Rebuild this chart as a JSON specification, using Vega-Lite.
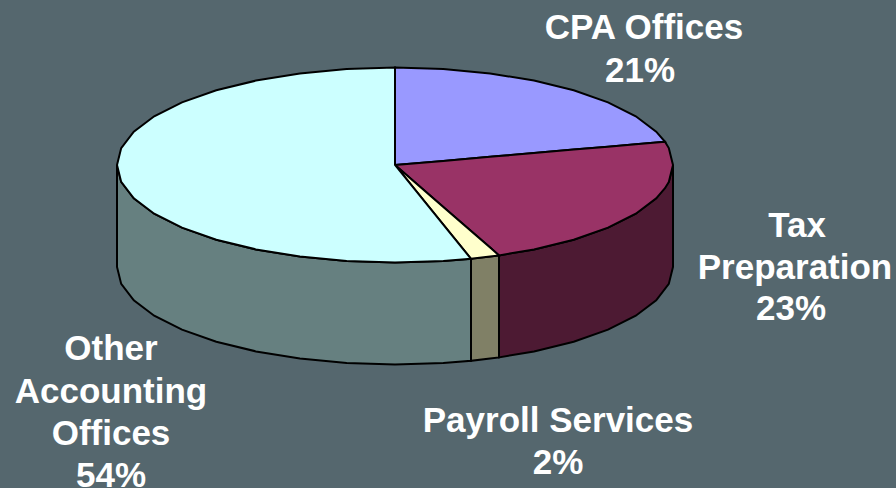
{"$schema":"https://vega.github.io/schema/vega-lite/v6.json","width":896,"height":488,"autosize":"none","padding":0,"background":"#55676e","view":{"stroke":null},
"datasets":{
"walls":[
{"part":"Other wall","x":117,"y":165,"y2":267},{"part":"Other wall","x":121.2,"y":181.9,"y2":283.9},{"part":"Other wall","x":133.8,"y":198.3,"y2":300.3},{"part":"Other wall","x":154.2,"y":213.75,"y2":315.75},{"part":"Other wall","x":182,"y":227.7,"y2":329.7},{"part":"Other wall","x":216.3,"y":239.7,"y2":341.7},{"part":"Other wall","x":256,"y":249.4,"y2":351.4},{"part":"Other wall","x":299.9,"y":256.6,"y2":358.6},{"part":"Other wall","x":346.7,"y":261,"y2":363},{"part":"Other wall","x":395,"y":262.5,"y2":364.5},{"part":"Other wall","x":443.3,"y":261,"y2":363},{"part":"Other wall","x":471,"y":258.8,"y2":360.8},
{"part":"Payroll wall","x":471,"y":258.8,"y2":360.8},{"part":"Payroll wall","x":490.1,"y":256.6,"y2":358.6},{"part":"Payroll wall","x":499,"y":255.4,"y2":357.4},
{"part":"Tax wall","x":499,"y":255.4,"y2":357.4},{"part":"Tax wall","x":534,"y":249.4,"y2":351.4},{"part":"Tax wall","x":573.7,"y":239.7,"y2":341.7},{"part":"Tax wall","x":608,"y":227.7,"y2":329.7},{"part":"Tax wall","x":635.8,"y":213.75,"y2":315.75},{"part":"Tax wall","x":656.2,"y":198.3,"y2":300.3},{"part":"Tax wall","x":668.8,"y":181.9,"y2":283.9},{"part":"Tax wall","x":673,"y":165,"y2":267}
],
"tops":[
{"part":"CPA Offices","x":395,"y":67.5,"y2":165},{"part":"CPA Offices","x":443.3,"y":69,"y2":160.9},{"part":"CPA Offices","x":490.1,"y":73.4,"y2":156.8},{"part":"CPA Offices","x":534,"y":80.6,"y2":153.1},{"part":"CPA Offices","x":573.7,"y":90.3,"y2":149.6},{"part":"CPA Offices","x":608,"y":102.3,"y2":146.7},{"part":"CPA Offices","x":635.8,"y":116.25,"y2":144.3},{"part":"CPA Offices","x":656.2,"y":131.7,"y2":142.6},{"part":"CPA Offices","x":665,"y":141.8,"y2":141.8},
{"part":"Tax Preparation","x":395,"y":165,"y2":165},{"part":"Tax Preparation","x":443.3,"y":160.9,"y2":207},{"part":"Tax Preparation","x":490.1,"y":156.8,"y2":247.6},{"part":"Tax Preparation","x":499,"y":156.1,"y2":255.4},{"part":"Tax Preparation","x":534,"y":153.1,"y2":249.4},{"part":"Tax Preparation","x":573.7,"y":149.6,"y2":239.7},{"part":"Tax Preparation","x":608,"y":146.7,"y2":227.7},{"part":"Tax Preparation","x":635.8,"y":144.3,"y2":213.75},{"part":"Tax Preparation","x":656.2,"y":142.6,"y2":198.3},{"part":"Tax Preparation","x":665,"y":141.8,"y2":188.2},{"part":"Tax Preparation","x":668.8,"y":148.1,"y2":181.9},{"part":"Tax Preparation","x":673,"y":165,"y2":165},
{"part":"Payroll Services","x":395,"y":165,"y2":165},{"part":"Payroll Services","x":420,"y":186.7,"y2":195.9},{"part":"Payroll Services","x":443.3,"y":207,"y2":224.6},{"part":"Payroll Services","x":471,"y":231,"y2":258.8},{"part":"Payroll Services","x":490.1,"y":247.6,"y2":256.6},{"part":"Payroll Services","x":499,"y":255.4,"y2":255.4},
{"part":"Other Accounting Offices","x":117,"y":165,"y2":165},{"part":"Other Accounting Offices","x":121.2,"y":148.1,"y2":181.9},{"part":"Other Accounting Offices","x":133.8,"y":131.7,"y2":198.3},{"part":"Other Accounting Offices","x":154.2,"y":116.25,"y2":213.75},{"part":"Other Accounting Offices","x":182,"y":102.3,"y2":227.7},{"part":"Other Accounting Offices","x":216.3,"y":90.3,"y2":239.7},{"part":"Other Accounting Offices","x":256,"y":80.6,"y2":249.4},{"part":"Other Accounting Offices","x":299.9,"y":73.4,"y2":256.6},{"part":"Other Accounting Offices","x":346.7,"y":69,"y2":261},{"part":"Other Accounting Offices","x":395,"y":67.5,"y2":262.5},{"part":"Other Accounting Offices","x":395.01,"y":165,"y2":262.5},{"part":"Other Accounting Offices","x":443.3,"y":224.6,"y2":261},{"part":"Other Accounting Offices","x":471,"y":258.8,"y2":258.8}
],
"labels":[
{"text":"CPA Offices","x":644,"y":39},{"text":"21%","x":640,"y":82},
{"text":"Tax","x":797,"y":237},{"text":"Preparation","x":795,"y":279},{"text":"23%","x":791,"y":320},
{"text":"Other","x":111,"y":360},{"text":"Accounting","x":111,"y":403},{"text":"Offices","x":111,"y":445},{"text":"54%","x":111,"y":487},
{"text":"Payroll Services","x":558,"y":432},{"text":"2%","x":558,"y":474}
]},
"encoding":{
"x":{"field":"x","type":"quantitative","axis":null,"scale":{"domain":[0,896],"nice":false,"zero":false}},
"y":{"field":"y","type":"quantitative","axis":null,"scale":{"domain":[488,0],"nice":false,"zero":false}}
},
"layer":[
{"data":{"name":"walls"},"mark":{"type":"area","stroke":"#000000","strokeWidth":2,"opacity":1,"clip":false},
"encoding":{"y2":{"field":"y2"},"color":{"field":"part","type":"nominal","legend":null,"scale":{"domain":["Other wall","Payroll wall","Tax wall"],"range":["#668080","#808066","#4d1a33"]}}}},
{"data":{"name":"tops"},"mark":{"type":"area","stroke":"#000000","strokeWidth":2,"opacity":1,"clip":false},
"encoding":{"y2":{"field":"y2"},"fill":{"field":"part","type":"nominal","legend":null,"scale":{"domain":["CPA Offices","Tax Preparation","Payroll Services","Other Accounting Offices"],"range":["#9999ff","#993366","#ffffcc","#ccffff"]}}}},
{"data":{"name":"labels"},"mark":{"type":"text","font":"Liberation Sans","fontWeight":"bold","fontSize":35,"fill":"#ffffff","align":"center","baseline":"alphabetic"},
"encoding":{"text":{"field":"text"}}}
]}
